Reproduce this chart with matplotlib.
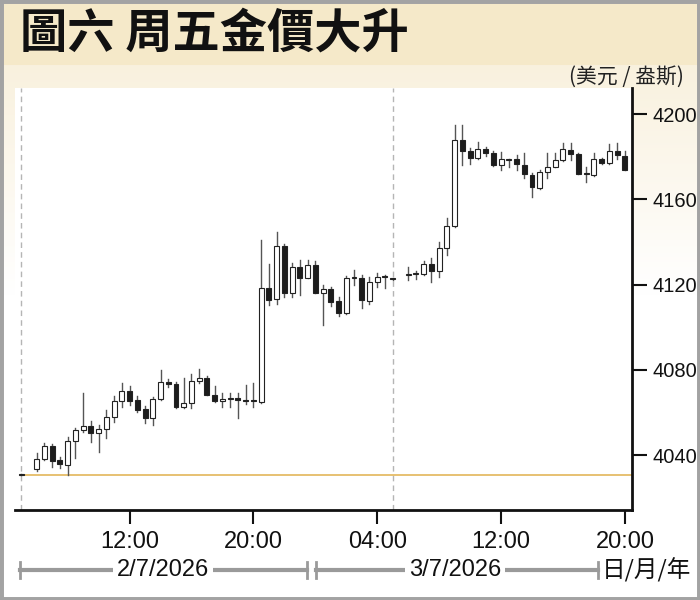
"""Gold price candlestick chart, 2-3 Jul 2026 (30-minute bars)."""

import matplotlib
matplotlib.use("Agg")
import matplotlib.pyplot as plt
import numpy as np
from matplotlib.lines import Line2D
from matplotlib.patches import Rectangle
from matplotlib.ticker import FixedLocator

CJK = ["Noto Sans CJK TC", "DejaVu Sans"]
NUM = ["Liberation Sans", "DejaVu Sans"]

TITLE = "圖六 周五金價大升"
UNIT = "(美元 / 盎斯)"

# hours counted from 2/7/2026 00:00
XTICKS = [12, 20, 28, 36, 44]
XTICK_LABELS = ["12:00", "20:00", "04:00", "12:00", "20:00"]
YTICKS = [4040, 4080, 4120, 4160, 4200]
SESSION_BREAKS = [5.0, 29.0]
REF_PRICE = 4030.6

# session 1: 05:00 bar, then 06:00 ... 05:00 next day
t1 = [5.0] + list(np.arange(6.0, 29.5, 0.5))
o1 = [4030.8, 4033.3, 4038.1, 4044.4, 4037.7, 4035.3, 4046.6, 4051.7, 4053.8,
      4050.2, 4052.0, 4057.7, 4065.3, 4070.0, 4065.8, 4061.5, 4057.5, 4066.1,
      4074.4, 4073.3, 4062.7, 4064.3, 4074.9, 4076.0, 4068.2, 4065.4, 4066.4,
      4066.9, 4065.8, 4065.3, 4065.0, 4118.5, 4113.4, 4138.1, 4115.9, 4128.4,
      4123.0, 4129.2, 4116.2, 4117.8, 4112.3, 4106.5, 4122.9, 4123.0, 4112.3,
      4121.4, 4123.6, 4122.7]
h1 = [4031.0, 4040.8, 4045.5, 4045.0, 4039.0, 4048.3, 4052.5, 4069.0, 4056.0,
      4054.0, 4061.0, 4067.7, 4073.7, 4072.5, 4067.5, 4063.0, 4067.4, 4080.0,
      4075.5, 4074.5, 4076.0, 4078.0, 4080.2, 4077.0, 4072.4, 4069.0, 4069.0,
      4069.0, 4072.8, 4073.7, 4141.0, 4129.5, 4144.8, 4139.0, 4130.0, 4131.5,
      4131.5, 4131.0, 4119.8, 4119.0, 4114.0, 4124.0, 4126.8, 4124.5, 4123.5,
      4125.3, 4124.5, 4123.2]
l1 = [4030.5, 4032.5, 4037.5, 4034.2, 4033.8, 4030.6, 4038.5, 4051.0, 4046.2,
      4041.5, 4047.8, 4055.6, 4062.7, 4063.5, 4060.3, 4055.0, 4054.0, 4066.0,
      4072.0, 4062.0, 4062.0, 4062.0, 4074.0, 4068.0, 4065.0, 4062.7, 4062.7,
      4057.2, 4064.0, 4062.7, 4064.5, 4110.4, 4110.8, 4114.3, 4114.0, 4115.0,
      4123.0, 4115.9, 4101.0, 4110.0, 4105.5, 4106.0, 4120.0, 4109.0, 4111.0,
      4119.0, 4118.5, 4122.2]
c1 = [4030.6, 4038.1, 4044.4, 4037.3, 4035.6, 4046.6, 4051.7, 4053.6, 4050.2,
      4052.0, 4057.7, 4065.3, 4070.0, 4065.5, 4061.0, 4057.5, 4066.1, 4074.4,
      4073.3, 4062.7, 4064.3, 4074.9, 4076.0, 4068.2, 4065.4, 4066.3, 4066.8,
      4065.8, 4065.3, 4065.2, 4118.5, 4112.8, 4138.1, 4116.2, 4128.4, 4123.0,
      4129.2, 4116.2, 4117.8, 4112.0, 4106.5, 4123.0, 4123.2, 4112.8, 4121.1,
      4123.8, 4123.4, 4122.6]

# session 2: 06:00 ... 20:00 on 3/7
t2 = list(np.arange(30.0, 44.5, 0.5))
o2 = [4124.4, 4124.8, 4125.0, 4129.7, 4126.5, 4137.3, 4147.5, 4187.9, 4182.9,
      4179.3, 4183.5, 4181.6, 4176.1, 4178.7, 4178.8, 4176.1, 4171.5, 4165.5,
      4172.7, 4175.0, 4178.5, 4183.2, 4181.2, 4172.0, 4171.5, 4178.8, 4177.3,
      4182.9, 4180.4]
h2 = [4128.4, 4126.5, 4131.0, 4132.3, 4140.1, 4151.1, 4194.9, 4194.9, 4184.0,
      4186.8, 4184.5, 4182.8, 4182.4, 4179.0, 4180.8, 4182.0, 4172.5, 4174.0,
      4181.6, 4182.0, 4186.3, 4186.6, 4182.0, 4175.0, 4182.0, 4179.5, 4186.0,
      4186.3, 4182.8]
l2 = [4122.4, 4122.5, 4124.5, 4121.4, 4123.7, 4133.9, 4147.0, 4176.2, 4176.8,
      4179.0, 4180.5, 4175.5, 4173.8, 4175.4, 4173.8, 4169.9, 4161.3, 4165.0,
      4169.9, 4175.0, 4178.0, 4178.5, 4171.8, 4168.3, 4171.0, 4176.5, 4176.8,
      4179.0, 4173.8]
c2 = [4124.6, 4125.0, 4129.7, 4126.5, 4137.3, 4147.5, 4187.9, 4182.9, 4179.3,
      4183.5, 4181.9, 4176.1, 4178.8, 4178.8, 4176.6, 4171.8, 4165.7, 4172.7,
      4175.0, 4178.5, 4183.5, 4181.2, 4171.9, 4171.8, 4178.8, 4177.3, 4182.9,
      4180.8, 4173.8]


def px(x, y):
    """Figure pixel (from top-left of 700x600) -> figure fraction."""
    return x / 700, 1 - y / 600


def draw_candles(ax, t, o, h, l, c, width=0.32):
    for ti, oi, hi, li, ci in zip(t, o, h, l, c):
        ax.plot([ti, ti], [li, hi], color="#555555", lw=1.0, zorder=2)
        lo, hi_b = min(oi, ci), max(oi, ci)
        body = max(hi_b - lo, 0.45)
        face = "white" if ci >= oi else "#1c1c1c"
        ax.add_patch(Rectangle((ti - width / 2, lo), width, body,
                               facecolor=face, edgecolor="#222222",
                               lw=0.8, zorder=3))


fig = plt.figure(figsize=(7, 6), dpi=100)
fig.patch.set_facecolor("white")

# background: beige title band, fading cream below
bg = fig.add_axes([0, 0, 1, 1], zorder=-5)
bg.set_axis_off()
rows = np.linspace(0, 1, 600)
fade = np.clip((rows - 65 / 600) / (230 / 600), 0, 1)
top = np.array([0.976, 0.945, 0.870])
grad = top[None, :] * (1 - fade[:, None]) + np.ones(3)[None, :] * fade[:, None]
grad[rows < 65 / 600] = [0.961, 0.914, 0.792]
bg.imshow(np.repeat(grad[:, None, :], 4, axis=1), aspect="auto",
          extent=[0, 1, 0, 1], origin="upper")
bg.set_xlim(0, 1)
bg.set_ylim(0, 1)

fig.text(*px(20, 34), TITLE, family=CJK, fontsize=34, fontweight="black",
         va="center", ha="left", color="#111111")
fig.text(*px(684, 77), UNIT, family=CJK, fontsize=15, va="center",
         ha="right", color="#222222")

# main chart
ax = fig.add_axes([15 / 700, 90 / 600, 617 / 700, 422 / 600])
ax.set_facecolor("white")
ax.set_xlim(4.60, 44.46)
ax.set_ylim(4014.2, 4212.3)

for xb in SESSION_BREAKS:
    ax.axvline(xb, color="#b5b5b5", lw=1.0, ls=(0, (4, 3)), zorder=1)
ax.plot([SESSION_BREAKS[0], ax.get_xlim()[1]], [REF_PRICE, REF_PRICE],
        color="#e3b65a", lw=1.2, zorder=1)

draw_candles(ax, t1, o1, h1, l1, c1)
draw_candles(ax, t2, o2, h2, l2, c2)

for side in ("top", "left"):
    ax.spines[side].set_visible(False)
for side in ("bottom", "right"):
    ax.spines[side].set_linewidth(2)
    ax.spines[side].set_color("#111111")

ax.xaxis.set_major_locator(FixedLocator(XTICKS))
ax.set_xticklabels(XTICK_LABELS)
ax.yaxis.tick_right()
ax.yaxis.set_major_locator(FixedLocator(YTICKS))
ax.tick_params(axis="x", direction="out", length=10, width=1.5, pad=5,
               labelsize=17, colors="#111111")
ax.tick_params(axis="y", direction="out", length=11, width=1.5, pad=4,
               labelsize=14.5, colors="#111111", left=False)
for lab in ax.get_xticklabels() + ax.get_yticklabels():
    lab.set_family(NUM)

# date brackets under the axis
gray = "#9a9a9a"
for x0, x1 in [(20, 307), (316, 598)]:
    fig.add_artist(Line2D([x0 / 700, x1 / 700], [1 - 570 / 600] * 2,
                          color=gray, lw=3))
    for xe in (x0, x1):
        fig.add_artist(Line2D([xe / 700] * 2, [1 - 562 / 600, 1 - 578 / 600],
                              color=gray, lw=2))
for xc, label in [(163, "2/7/2026"), (455, "3/7/2026")]:
    fig.text(*px(xc, 570), label, family=NUM, fontsize=17, ha="center",
             va="center", color="#111111",
             bbox=dict(facecolor="white", edgecolor="none", pad=3))
fig.text(*px(647, 570), "日/月/年", family=CJK, fontsize=17, ha="center",
         va="center", color="#111111")

# outer frame
fig.add_artist(Rectangle((0, 0), 1, 1, transform=fig.transFigure,
                         fill=False, edgecolor="#a3a3a3", lw=5))

fig.savefig("out.png", dpi=100)
